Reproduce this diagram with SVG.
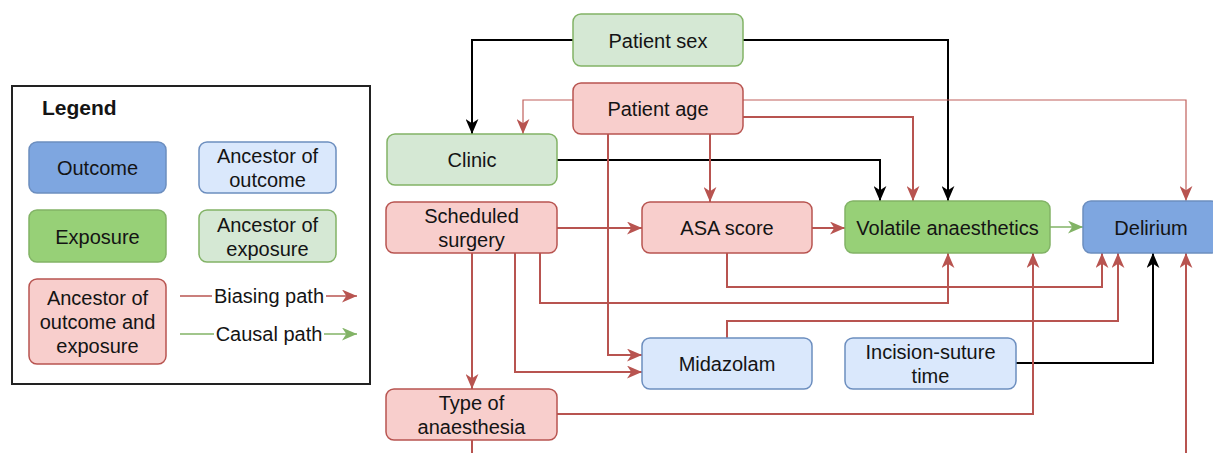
<svg xmlns="http://www.w3.org/2000/svg" width="1213" height="453" viewBox="0 0 1213 453">
  <style>
    text { font-family: "Liberation Sans", Arial, sans-serif; font-size: 20px; fill: #141414; text-anchor: middle; }
    .red rect { fill: #f8cecc; stroke: #b85450; stroke-width: 1.5; }
    .grn rect { fill: #d5e8d4; stroke: #82b366; stroke-width: 1.5; }
    .blu rect { fill: #dae8fc; stroke: #6c8ebf; stroke-width: 1.5; }
    .out rect { fill: #7ea6e0; stroke: #6c8ebf; stroke-width: 1.5; }
    .exp rect { fill: #97d077; stroke: #82b366; stroke-width: 1.5; }
    .e { fill: none; stroke-linejoin: miter; }
    .eb { stroke: #000; stroke-width: 2; marker-end: url(#ab); }
    .er { stroke: #b85450; stroke-width: 2; marker-end: url(#ar); }
    .et { stroke: #c0605c; stroke-width: 1.2; marker-end: url(#ar); }
    .eg { stroke: #82b366; stroke-width: 1.5; marker-end: url(#ag); }
  </style>
  <defs>
    <marker id="ab" markerUnits="userSpaceOnUse" viewBox="0 0 14 12" refX="14" refY="6" markerWidth="15" markerHeight="13" orient="auto">
      <path d="M0,0 L14,6 L0,12 L4,6 Z" fill="#000"/>
    </marker>
    <marker id="ar" markerUnits="userSpaceOnUse" viewBox="0 0 14 12" refX="14" refY="6" markerWidth="15" markerHeight="13" orient="auto">
      <path d="M0,0 L14,6 L0,12 L4,6 Z" fill="#b85450"/>
    </marker>
    <marker id="ag" markerUnits="userSpaceOnUse" viewBox="0 0 14 12" refX="14" refY="6" markerWidth="15" markerHeight="13" orient="auto">
      <path d="M0,0 L14,6 L0,12 L4,6 Z" fill="#82b366"/>
    </marker>
  </defs>
  <rect width="1213" height="453" fill="#fff"/>

  <!-- Legend -->
  <g id="legend">
    <rect x="12" y="86" width="358" height="298" fill="#fff" stroke="#222" stroke-width="2"/>
    <text x="42" y="115" style="text-anchor:start;font-weight:bold;font-size:21px">Legend</text>
    <g class="out"><rect x="29" y="142" width="137" height="51" rx="8"/><text x="97.5" y="175">Outcome</text></g>
    <g class="blu"><rect x="199" y="142" width="137" height="51" rx="8"/><text x="267.5" y="163">Ancestor of</text><text x="267.5" y="187">outcome</text></g>
    <g class="exp"><rect x="29" y="210" width="137" height="52" rx="8"/><text x="97.5" y="243.5">Exposure</text></g>
    <g class="grn"><rect x="199" y="210" width="137" height="52" rx="8"/><text x="267.5" y="231.5">Ancestor of</text><text x="267.5" y="255.5">exposure</text></g>
    <g class="red"><rect x="29" y="279" width="137" height="85" rx="8"/><text x="97.5" y="305">Ancestor of</text><text x="97.5" y="329">outcome and</text><text x="97.5" y="353">exposure</text></g>
    <path class="e" d="M180,296 H212" stroke="#b85450" stroke-width="1.5"/>
    <path class="e" d="M326,296 H357" stroke="#b85450" stroke-width="1.5" marker-end="url(#ar)"/>
    <text x="269" y="303">Biasing path</text>
    <path class="e" d="M180,334 H214" stroke="#82b366" stroke-width="1.5"/>
    <path class="e" d="M324,334 H357" stroke="#82b366" stroke-width="1.5" marker-end="url(#ag)"/>
    <text x="269" y="341">Causal path</text>
  </g>

  <!-- Connectors -->
  <g id="edges">
    <path class="e eb" d="M573,40 H472 V134"/>
    <path class="e eb" d="M743,40 H948 V201"/>
    <path class="e eb" d="M557,160 H880 V201"/>
    <path class="e eb" d="M1016,363 H1153 V253"/>
    <path class="e et" d="M573,100 H523 V134"/>
    <path class="e et" d="M743,100 H1186 V201"/>
    <path class="e er" d="M743,117 H913 V201"/>
    <path class="e er" d="M710,134 V202"/>
    <path class="e er" d="M608,134 V355 H642"/>
    <path class="e er" d="M557,228 H642"/>
    <path class="e er" d="M812,228 H845"/>
    <path class="e er" d="M472,253 V389"/>
    <path class="e er" d="M515,253 V372 H642"/>
    <path class="e er" d="M540,253 V303 H948 V253"/>
    <path class="e er" d="M727,253 V287 H1102 V253"/>
    <path class="e er" d="M727,338 V321 H1118 V253"/>
    <path class="e er" d="M557,414 H1033 V253"/>
    <path class="e er" d="M472,440 V480 H1186 V253"/>
    <path class="e eg" d="M1050,227 H1083"/>
  </g>

  <!-- Nodes -->
  <g id="patient-sex" class="grn"><rect x="573" y="14" width="170" height="52" rx="8"/><text x="658" y="47.5">Patient sex</text></g>
  <g id="patient-age" class="red"><rect x="573" y="83" width="170" height="51" rx="8"/><text x="658" y="116">Patient age</text></g>
  <g id="clinic" class="grn"><rect x="387" y="134" width="170" height="51" rx="8"/><text x="472" y="167">Clinic</text></g>
  <g id="scheduled-surgery" class="red"><rect x="386" y="202" width="171" height="51" rx="8"/><text x="471.5" y="223">Scheduled</text><text x="471.5" y="247">surgery</text></g>
  <g id="asa-score" class="red"><rect x="642" y="202" width="170" height="51" rx="8"/><text x="727" y="235">ASA score</text></g>
  <g id="volatile-anaesthetics" class="exp"><rect x="845" y="201" width="205" height="52" rx="8"/><text x="947.5" y="234.5">Volatile anaesthetics</text></g>
  <g id="delirium" class="out"><rect x="1083" y="201" width="136" height="52" rx="8"/><text x="1151" y="234.5">Delirium</text></g>
  <g id="midazolam" class="blu"><rect x="642" y="338" width="170" height="51" rx="8"/><text x="727" y="371">Midazolam</text></g>
  <g id="incision-suture-time" class="blu"><rect x="845" y="338" width="171" height="51" rx="8"/><text x="930.5" y="359">Incision-suture</text><text x="930.5" y="383">time</text></g>
  <g id="type-of-anaesthesia" class="red"><rect x="386" y="389" width="171" height="51" rx="8"/><text x="471.5" y="410">Type of</text><text x="471.5" y="434">anaesthesia</text></g>
</svg>
